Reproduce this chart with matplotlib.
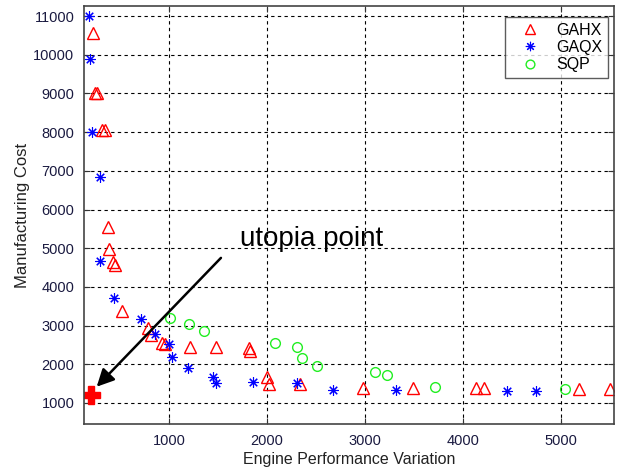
import matplotlib
matplotlib.use("Agg")
import matplotlib.pyplot as plt

plt.rcParams['font.family'] = ['Liberation Sans', 'DejaVu Sans']

# GAHX (red triangles)
gahx_x = [224, 245, 265, 316, 347, 378, 388, 430, 450, 520, 786, 816, 929, 959,
          1214, 1480, 1816, 1826, 2000, 2020, 2337, 2980, 3490, 4133, 4214, 5184, 5500]
gahx_y = [10560, 9000, 9000, 8050, 8050, 5550, 4980, 4650, 4560, 3380, 2940, 2760, 2550, 2525,
          2447, 2447, 2420, 2350, 1670, 1500, 1490, 1390, 1390, 1390, 1390, 1360, 1360]

# GAQX (blue stars)
gaqx_x = [184, 194, 214, 296, 296, 439, 714, 857, 1000, 1031, 1194, 1449, 1480,
          1862, 2306, 2673, 3316, 4449, 4745]
gaqx_y = [11000, 9900, 8000, 6840, 4670, 3713, 3170, 2783, 2525, 2190, 1904, 1672, 1517,
          1530, 1517, 1336, 1336, 1310, 1310]

# SQP (green circles)
sqp_x = [1010, 1204, 1357, 2082, 2306, 2357, 2510, 3102, 3224, 3714, 5041]
sqp_y = [3196, 3041, 2860, 2550, 2447, 2163, 1956, 1800, 1723, 1413, 1362]

utopia_x = [204]
utopia_y = [1207]

x_ticks = [1000, 2000, 3000, 4000, 5000]
y_ticks = [1000, 2000, 3000, 4000, 5000, 6000, 7000, 8000, 9000, 10000, 11000]

fig = plt.figure(figsize=(6.18, 4.69), dpi=100)
ax = fig.add_axes([0.136, 0.096, 0.8575, 0.891])

ax.plot(gahx_x, gahx_y, linestyle='none', marker='^', markersize=8,
        markerfacecolor='none', markeredgecolor='#ff0000', markeredgewidth=1.0, label='GAHX')
ax.plot(gaqx_x, gaqx_y, linestyle='none', marker=(8, 2, 0), markersize=7.5,
        color='#0000ff', markeredgewidth=0.8, label='GAQX')
ax.plot(sqp_x, sqp_y, linestyle='none', marker='o', markersize=7,
        markerfacecolor='none', markeredgecolor='#22ee22', markeredgewidth=1.0, label='SQP')
ax.plot(utopia_x, utopia_y, linestyle='none', marker='P', markersize=13,
        color='#ff0000', label='_nolegend_')

ax.annotate('', xy=(262, 1420), xytext=(1530, 4750),
            arrowprops=dict(arrowstyle='-|>', color='black', lw=1.8,
                            mutation_scale=26, shrinkA=0, shrinkB=0))
ax.text(1720, 5230, 'utopia point', fontsize=20, color='black', va='center', ha='left')

ax.set_xlim(133, 5541)
ax.set_ylim(457, 11258)
ax.set_xticks(x_ticks)
ax.set_yticks(y_ticks)
ax.tick_params(direction='in', top=True, right=True, labelsize=10.5, length=4, colors='#333333',
               labelcolor='#1a1a40', pad=7)
ax.grid(True, color='black', linestyle=(0, (3, 3)), linewidth=0.8)
for s in ax.spines.values():
    s.set_color('#444444')
    s.set_linewidth(1.2)

ax.set_xlabel('Engine Performance Variation', fontsize=11.5, color='#222222', labelpad=3)
ax.set_ylabel('Manufacturing Cost', fontsize=12, color='#222222', labelpad=2)

leg = ax.legend(loc='upper right', bbox_to_anchor=(0.9887, 0.974), fontsize=11.5,
                frameon=True, fancybox=False, edgecolor='#333333', borderpad=0.35,
                labelspacing=0.15, handletextpad=0.45, handlelength=2.4, borderaxespad=0,
                markerscale=0.9)
leg.get_frame().set_linewidth(1.0)

fig.savefig('out.png', dpi=100, facecolor='white')
